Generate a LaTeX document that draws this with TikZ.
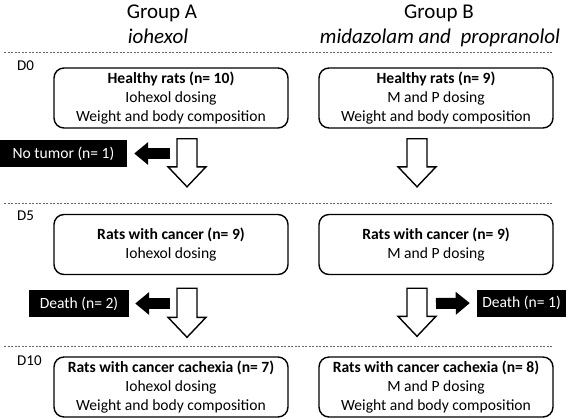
\documentclass[tikz,border=0pt]{standalone}
\usepackage{fontspec}
\setmainfont{Carlito}
\usetikzlibrary{calc,arrows.meta}
\newcommand{\hollowdown}[5]{%
  \path ($(#1.south)+(#3,#4)$) coordinate (ht) ($(#2.north)+(#3,-#5)$) coordinate (hb);
  \draw[hollow] let \p1=(ht), \p2=(hb) in
    (\x1-10pt,\y1) -- (\x1+10pt,\y1) -- (\x1+10pt,\y2+20pt) -- (\x1+19pt,\y2+20pt)
    -- (\x1,\y2) -- (\x1-19pt,\y2+20pt) -- (\x1-10pt,\y2+20pt) -- cycle;}
\begin{document}
\begin{tikzpicture}[x=1pt,y=-1pt,
  box/.style={draw=black, line width=1.4pt, rounded corners=10pt, minimum width=234pt,
    minimum height=60pt, inner sep=0pt, align=center, font=\fontsize{15.6}{19}\selectfont},
  blackbox/.style={fill=black, text=white, inner sep=0pt, minimum height=27pt,
    font=\fontsize{15.6}{19}\selectfont},
  day/.style={font=\fontsize{15}{18}\selectfont, anchor=west, inner sep=0pt},
  title/.style={font=\fontsize{21}{25}\selectfont, anchor=base, inner sep=0pt},
  subtitle/.style={font=\fontsize{21}{25}\selectfont\itshape, anchor=base, inner sep=0pt},
  sep/.style={draw=black!60, line width=1pt, dash pattern=on 2pt off 1.5pt},
  hollow/.style={draw=black, line width=1.4pt, fill=white, line join=miter},
  blk/.style={line width=11pt, -{Triangle[length=14pt,width=22pt]}}
]
\useasboundingbox (0,0) rectangle (577,418);

% titles
\node[title] (ga) at (162,18) {Group A};
\node[subtitle] (gas) at (158,43) {iohexol};
\node[title] (gb) at (439,18) {Group B};
\node[subtitle] (gbs) at (440,43) {midazolam and\ \ propranolol};

% separators
\draw[sep] (4,52) -- (552,52);
\draw[sep] (4,203) -- (552,203);
\draw[sep] (4,346) -- (552,346);

% day labels
\node[day] (d0) at (17,66) {D0};
\node[day] (d5) at (17,216) {D5};
\node[day] (d10) at (17,361) {D10};

% boxes
\node[box] (a1) at (171,98) {\textbf{Healthy rats (n= 10)}\\Iohexol dosing\\Weight and body composition};
\node[box] (b1) at (436,98) {\textbf{Healthy rats (n= 9)}\\M and P dosing\\Weight and body composition};
\node[box] (a2) at (171,244.5) {\textbf{Rats with cancer (n= 9)}\\Iohexol dosing};
\node[box] (b2) at (436,244.5) {\textbf{Rats with cancer (n= 9)}\\M and P dosing};
\node[box] (a3) at (171,387) {\textbf{Rats with cancer cachexia (n= 7)}\\Iohexol dosing\\Weight and body composition};
\node[box] (b3) at (436,387) {\textbf{Rats with cancer cachexia (n= 8)}\\M and P dosing\\Weight and body composition};

% black boxes
\node[blackbox, minimum width=127pt] (nt) at (63.5,153.5) {No tumor (n= 1)};
\node[blackbox, minimum width=100pt] (da) at (79,303.5) {Death (n= 2)};
\node[blackbox, minimum width=89pt] (db) at (521.5,303) {Death (n= 1)};

% hollow arrows
\hollowdown{a1}{a2}{16}{10}{27}
\hollowdown{a2}{a3}{16}{13}{19}
\hollowdown{b1}{b2}{-19}{10}{27}
\hollowdown{b2}{b3}{-19}{13}{20}

% black arrows
\coordinate (ntsrc) at (170,153.5);
\coordinate (dasrc) at (170,303.5);
\coordinate (dbsrc) at (436,303.5);
\draw[blk, shorten >=7pt] (ntsrc) -- (nt.east);
\draw[blk, shorten >=6pt] (dasrc) -- (da.east);
\draw[blk, shorten >=7pt] (dbsrc) -- (db.west);
\end{tikzpicture}
\end{document}
